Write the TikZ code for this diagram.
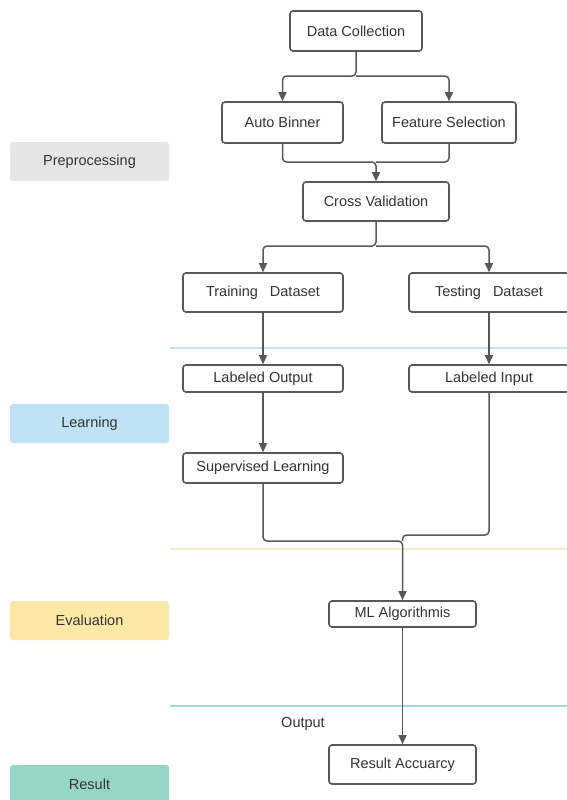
\documentclass[tikz,border=0pt]{standalone}
\usepackage{fontspec}
\setmainfont{Liberation Sans}
\usepackage{xcolor}
\usepackage{tikz}
\usetikzlibrary{arrows.meta}

\definecolor{edgegray}{HTML}{585858}
\definecolor{textgray}{HTML}{333333}
\definecolor{prepgray}{HTML}{E6E6E6}
\definecolor{learnblue}{HTML}{BFE3F4}
\definecolor{evalyellow}{HTML}{FDE9A5}
\definecolor{resteal}{HTML}{98D5C9}
\definecolor{bandcyan}{HTML}{C4E7E8}
\definecolor{bandyellow}{HTML}{F4EFC9}
\definecolor{bandteal}{HTML}{A8D8D4}

\tikzset{
  box/.style={draw=edgegray, line width=1.6pt, rounded corners=3pt, fill=white,
    text=textgray, inner sep=0pt, minimum height=39pt,
    font=\fontsize{14.5}{17}\selectfont},
  stage/.style={fill=#1, rounded corners=3pt, minimum width=159pt,
    minimum height=39pt, inner sep=0pt, text=textgray,
    font=\fontsize{14.5}{17}\selectfont},
  flow/.style={draw=edgegray, line width=1.5pt, rounded corners=4pt},
  arr/.style={-{Triangle[length=9pt,width=8pt]}},
  band/.style={line width=1.6pt}
}

\begin{document}
\begin{tikzpicture}[x=1pt,y=-1pt]

\fill[white] (0,0) rectangle (567,800);
\useasboundingbox (0,0) rectangle (567,800);

% stage labels on the left
\node[stage=prepgray] (prep) at (89.5,161.5) {Preprocessing};
\node[stage=learnblue] (learn) at (89.5,423.5) {Learning};
\node[stage=evalyellow] (eval) at (89.5,620.5) {Evaluation};
\node[stage=resteal] (res) at (89.5,784.5) {Result};

% stage borders
\draw[band, bandcyan] (170,348) -- (567,348);
\draw[band, bandyellow] (170,549) -- (567,549);
\draw[band, bandteal] (170,706) -- (567,706);

% boxes
\node[box, minimum width=132pt, minimum height=40pt] (dc) at (356,31) {Data Collection};
\node[box, minimum width=121pt, minimum height=41pt] (ab) at (282.5,122.5) {Auto Binner};
\node[box, minimum width=134pt, minimum height=41pt] (fs) at (449,122.5) {Feature Selection};
\node[box, minimum width=146pt] (cv) at (376,201.5) {Cross Validation};
\node[box, minimum width=160pt] (trd) at (263,292.5) {Training\ \ \ Dataset};
\node[box, minimum width=160pt] (tsd) at (489,292.5) {Testing\ \ \ Dataset};
\node[box, minimum width=160pt, minimum height=27pt] (lo) at (263,378.5) {Labeled Output};
\node[box, minimum width=160pt, minimum height=27pt] (li) at (489,378.5) {Labeled Input};
\node[box, minimum width=160pt, minimum height=30pt] (sl) at (263,468) {Supervised Learning};
\node[box, minimum width=147pt, minimum height=26pt] (ml) at (402.5,614) {ML Algorithmis};
\node[box, minimum width=147pt] (ra) at (402.5,764.5) {Result Accuarcy};

\node[text=textgray, font=\fontsize{14.5}{17}\selectfont] (outlbl) at (303,724) {Output};

% joints
\coordinate (s1) at (356,76);
\coordinate (m1) at (376,162);
\coordinate (s2) at (376,246);
\coordinate (m2) at (402.5,541);
\coordinate (m3) at (402.5,535);

% connectors
\draw[flow, arr] (dc.south) -- (s1) -| (ab.north);
\draw[flow, arr] (s1) -| (fs.north);
\draw[flow, arr] (ab.south) |- (m1) -- (cv.north);
\draw[flow] (fs.south) |- (m1);
\draw[flow, arr] (cv.south) -- (s2) -| (trd.north);
\draw[flow, arr] (s2) -| (tsd.north);
\draw[flow, arr] (trd) -- (lo);
\draw[flow, arr] (tsd) -- (li);
\draw[flow, arr] (lo) -- (sl);
\draw[flow, arr] (sl.south) |- (m2) -- (ml.north);
\draw[flow] (li.south) |- (m3) -- (m2);
\draw[flow, arr] (ml) -- (ra);

\end{tikzpicture}
\end{document}
